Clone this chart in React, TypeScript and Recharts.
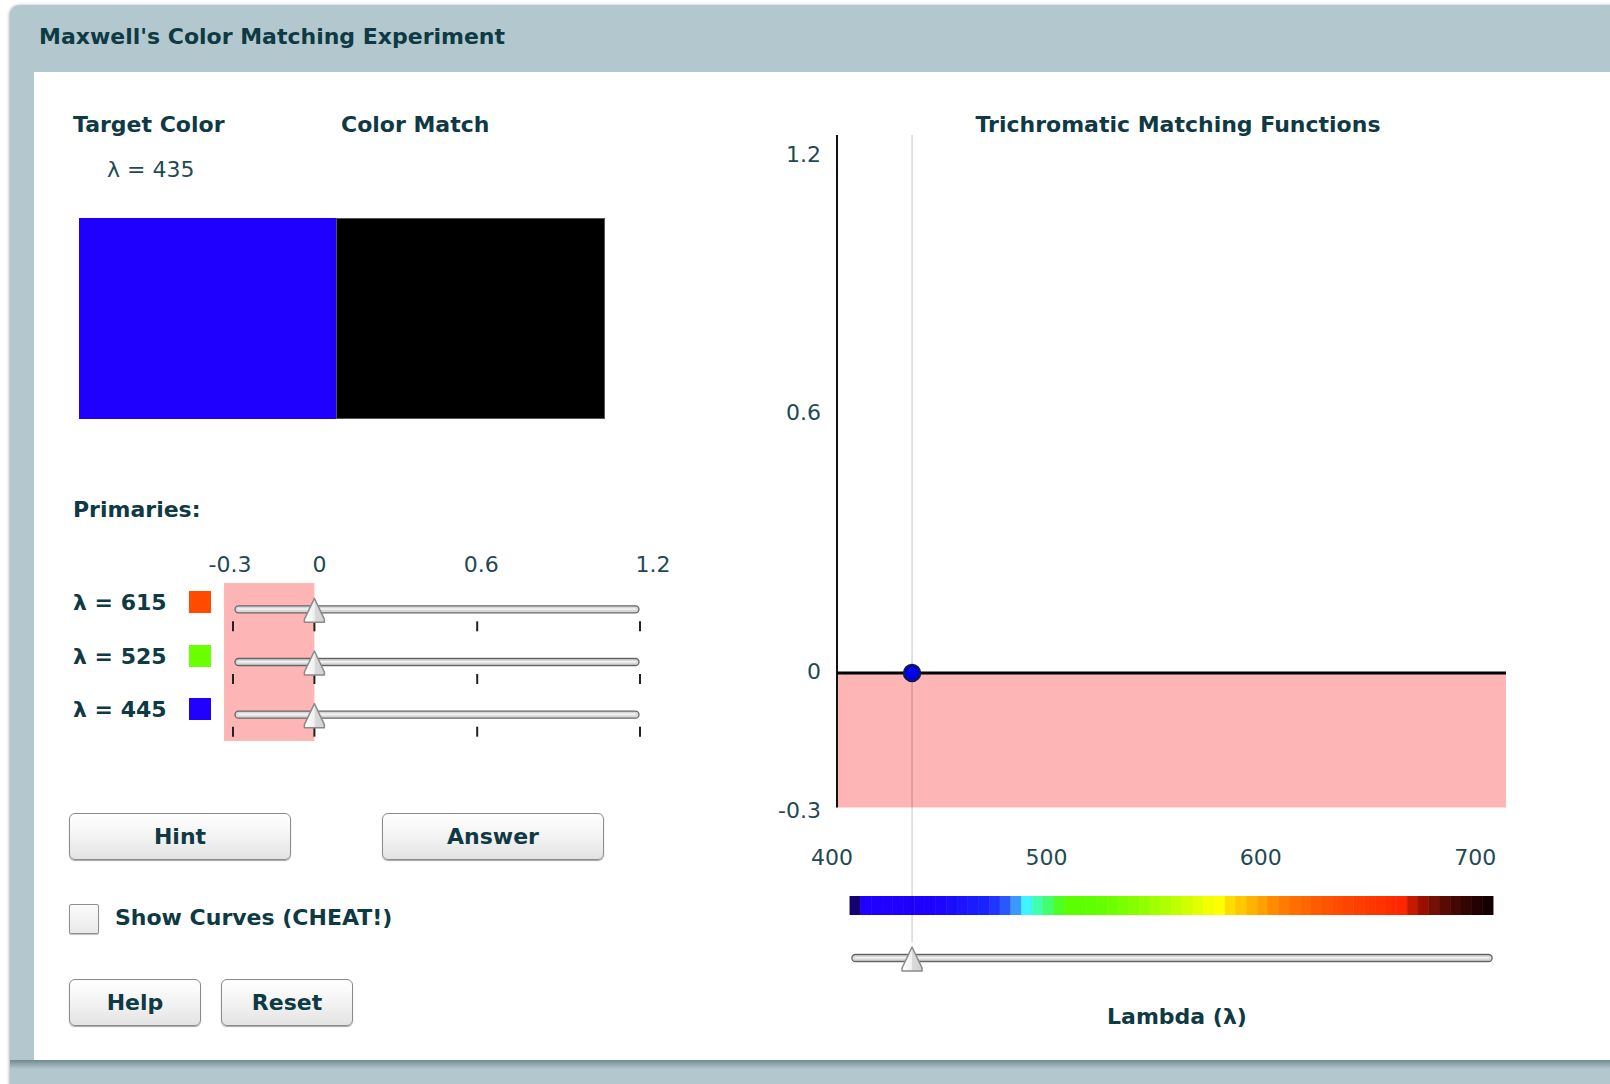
import React from 'react';
import { ComposedChart, XAxis, YAxis, ReferenceArea, ReferenceLine, ReferenceDot, Scatter } from 'recharts';

// ---------- data ----------
const targetLambda = 435;
const targetColor = '#1f00ff';
const targetMatchValue = 0;
const primaryLambdas = [615, 525, 445];
const primaryColors = ['#ff4a00', '#6cff00', '#2200ff'];
const primaryWeights = [0, 0, 0];
const sliderTicks = [-0.3, 0, 0.6, 1.2];
const lambdaTicks = [400, 500, 600, 700];
const valueTicks = [1.2, 0.6, 0, -0.3];
const lambdaDomain = [400, 712];
const valueDomain = [-0.3, 1.2];
const spectrumStart = 406;
const spectrumStep = 5;
const spectrumColors = [
  '#14006e', '#2000ff', '#2000ff', '#2000ff', '#2000ff', '#1f00ff', '#1e00ff', '#1e02ff', '#1d06ff', '#1c0cff',
  '#1b14ff', '#1a1cff', '#1a22ff', '#1e34ff', '#2a58ff', '#3a98ff', '#40f4ff', '#40ffb0', '#42ff70', '#4cff24',
  '#5aff00', '#5cff00', '#60ff00', '#66ff00', '#6eff00', '#78ff00', '#84ff00', '#92ff00', '#a0ff00', '#b0ff00',
  '#c0ff00', '#d2ff00', '#e4ff00', '#f4ff00', '#ffff00', '#ffdc00', '#ffc800', '#ffb400', '#ffa000', '#ff8c00',
  '#ff7c00', '#ff7000', '#ff6600', '#ff5c00', '#ff5400', '#ff4c00', '#ff4400', '#ff3e00', '#ff3800', '#ff3200',
  '#ff2c00', '#ff2600', '#c41a00', '#9a1000', '#741006', '#5a0a04', '#440804', '#320402', '#220202', '#140000',
];

// tables built from the arrays above
const targetData = [{ lambda: targetLambda, value: targetMatchValue, row: 0.5 }];
const primaryData = primaryLambdas.map((l, i) => ({ lambda: l, weight: primaryWeights[i], row: i + 0.5 }));
const spectrumData = spectrumColors.map((c, i) => ({
  lambda: spectrumStart + i * spectrumStep + spectrumStep / 2,
  x1: spectrumStart + i * spectrumStep,
  x2: spectrumStart + (i + 1) * spectrumStep,
  color: c,
  row: 0.5,
}));

// ---------- styles / layout ----------
const FONT = '"DejaVu Sans", Verdana, sans-serif';
const HEAD = '#0f3a44';
const TEXT = '#1f4a54';
const PINK = '#fdb5b5';
const GUIDE = 'rgba(0,0,0,0.24)';
// the plot frame runs on below the axis so the guide line reaches the lambda slider
const plotFloor = -0.6;
const X_LABEL_RISE = 85;

const fmt = (v: number) => (v === 0 ? '0' : String(v));

const hexToRgb = (h: string) => [parseInt(h.slice(1, 3), 16), parseInt(h.slice(3, 5), 16), parseInt(h.slice(5, 7), 16)];
const matchRgb = [0, 1, 2].map((k) =>
  Math.min(255, Math.max(0, Math.round(primaryColors.reduce((s, c, i) => s + hexToRgb(c)[k] * primaryWeights[i], 0))))
);
const matchColor = `rgb(${matchRgb[0]},${matchRgb[1]},${matchRgb[2]})`;

const yNudge: Record<string, number> = { '1.2': 19, '0.6': 8, '0': -2, '-0.3': 3 };
const sNudge: Record<string, number> = { '-0.3': -3, '0': 5, '0.6': 4, '1.2': 13 };

function YTick(props: any) {
  const { x, y, payload } = props;
  const v = payload.value;
  return (
    <text x={x} y={y + (yNudge[String(v)] ?? 0)} textAnchor="end" dominantBaseline="central" fill={TEXT} fontSize={22} fontFamily={FONT}>
      {fmt(v)}
    </text>
  );
}

function XTick(props: any) {
  const { x, y, payload } = props;
  return (
    <text x={x - 5} y={y - X_LABEL_RISE} textAnchor="middle" dominantBaseline="central" fill={TEXT} fontSize={22} fontFamily={FONT}>
      {fmt(payload.value)}
    </text>
  );
}

function STick(props: any) {
  const { x, y, payload } = props;
  const v = payload.value;
  return (
    <text x={x + (sNudge[String(v)] ?? 0)} y={y - 19} textAnchor="middle" dominantBaseline="central" fill={TEXT} fontSize={22} fontFamily={FONT}>
      {fmt(v)}
    </text>
  );
}

function Track(props: any) {
  const { x, y, width, height } = props;
  const cy = y + height / 2;
  return (
    <g>
      <rect x={x + 2} y={cy - 3.5} width={width - 3} height={7} rx={3.5} fill="#d8d8d8" stroke="#666" strokeWidth={1.3} />
      <line x1={x + 5} x2={x + width - 4} y1={cy - 0.3} y2={cy - 0.3} stroke="#f4f4f4" strokeWidth={1.6} />
    </g>
  );
}

function Thumb(props: any) {
  const { cx, cy } = props;
  if (cx == null || cy == null) return <g />;
  return (
    <g>
      <defs>
        <linearGradient id="thumbGrad" x1="0" y1="0" x2="1" y2="0">
          <stop offset="0" stopColor="#ffffff" />
          <stop offset="0.5" stopColor="#f0f0f0" />
          <stop offset="0.52" stopColor="#dadada" />
          <stop offset="1" stopColor="#d2d2d2" />
        </linearGradient>
      </defs>
      <path
        d={`M${cx},${cy - 11} L${cx + 10},${cy + 10} L${cx + 10},${cy + 13} L${cx - 10},${cy + 13} L${cx - 10},${cy + 10} Z`}
        fill="url(#thumbGrad)"
        stroke="#8a8a8a"
        strokeWidth={1.5}
        strokeLinejoin="round"
      />
    </g>
  );
}

// guide below the value axis, drawn inside a hairline reference band
function GuideBand(props: any) {
  const { x, y, width, height } = props;
  if (x == null || y == null) return <g />;
  const gx = x + (width || 0) / 2;
  return <line x1={gx} x2={gx} y1={y} y2={y + height} stroke={GUIDE} strokeWidth={1} />;
}

function BlueDot(props: any) {
  const { cx, cy } = props;
  if (cx == null || cy == null) return <g />;
  return <circle cx={cx} cy={cy} r={8} fill="#0000ee" stroke="#0a1a55" strokeWidth={2.5} />;
}

function TickMark(props: any) {
  const { cx, cy } = props;
  return <line x1={cx} x2={cx} y1={cy + 12} y2={cy + 22} stroke="#222" strokeWidth={2} />;
}

function Label(p: { x: number; cy: number; text: string; bold?: boolean; center?: boolean; color?: string }) {
  const { x, cy, text, bold = true, center = false, color = HEAD } = p;
  return (
    <div
      style={{
        position: 'absolute',
        left: center ? x - 300 : x,
        width: center ? 600 : undefined,
        textAlign: center ? 'center' : 'left',
        top: cy - 15,
        height: 30,
        lineHeight: '30px',
        fontSize: 22,
        fontWeight: bold ? 'bold' : 'normal',
        color,
        whiteSpace: 'nowrap',
        fontFamily: FONT,
      }}
    >
      {text}
    </div>
  );
}

function Btn(p: { x: number; y: number; w: number; h: number; text: string }) {
  return (
    <div
      style={{
        position: 'absolute',
        left: p.x,
        top: p.y,
        width: p.w,
        height: p.h,
        boxSizing: 'border-box',
        border: '1px solid #8b8b8b',
        borderRadius: 6,
        background: 'linear-gradient(#ffffff, #f3f3f3 50%, #e3e3e3)',
        boxShadow: '0 1px 1px rgba(0,0,0,0.35)',
        display: 'flex',
        alignItems: 'center',
        justifyContent: 'center',
        fontSize: 22,
        fontWeight: 'bold',
        color: HEAD,
        fontFamily: FONT,
      }}
    >
      {p.text}
    </div>
  );
}

export default function App() {
  return (
    <div style={{ position: 'absolute', left: 0, top: 0, width: 1610, height: 1084, background: '#fff', overflow: 'hidden', fontFamily: FONT }}>
      {/* panel frame */}
      <div style={{ position: 'absolute', left: 10, top: 5, width: 1660, height: 1120, background: '#b2c8ce', borderRadius: '10px 0 0 0', boxShadow: '-1px 0 3px rgba(0,0,0,0.3)' }} />
      <div style={{ position: 'absolute', left: 34, top: 72, width: 1600, height: 988, background: '#ffffff' }} />
      <div style={{ position: 'absolute', left: 10, top: 1060, width: 1620, height: 24, background: 'linear-gradient(#71888f 0px, #97adb3 5px, #b2c8ce 9px)' }} />

      <Label x={39} cy={37} text="Maxwell's Color Matching Experiment" />

      {/* left side */}
      <Label x={73} cy={125} text="Target Color" />
      <Label x={341} cy={125} text="Color Match" />
      <Label x={107} cy={170} text={`λ = ${targetLambda}`} bold={false} color={TEXT} />
      <div style={{ position: 'absolute', left: 79, top: 218, width: 257, height: 201, background: targetColor }} />
      <div style={{ position: 'absolute', left: 336, top: 218, width: 269, height: 201, background: matchColor, border: '1px solid #555', boxSizing: 'border-box' }} />

      <Label x={73} cy={510} text="Primaries:" />
      {primaryLambdas.map((l, i) => (
        <React.Fragment key={l}>
          <Label x={73} cy={603 + i * 53.5} text={`λ = ${l}`} />
          <div style={{ position: 'absolute', left: 189, top: 591 + i * 53.5, width: 22, height: 22, background: primaryColors[i] }} />
        </React.Fragment>
      ))}

      <div style={{ position: 'absolute', left: 203, top: 533 }}>
        <ComposedChart width={470} height={218} data={primaryData} margin={{ top: 10, right: 33, left: 30, bottom: 10 }}>
          <XAxis
            type="number"
            dataKey="weight"
            orientation="top"
            domain={valueDomain}
            ticks={sliderTicks}
            interval={0}
            height={40}
            tickSize={0}
            tickMargin={0}
            axisLine={false}
            tickLine={false}
            tick={STick}
            allowDataOverflow
          />
          <YAxis type="number" dataKey="row" domain={[0, primaryLambdas.length]} reversed hide width={0} allowDataOverflow />
          <ReferenceArea x1={-0.333} x2={0} fill={PINK} fillOpacity={1} stroke="none" ifOverflow="visible" />
          {primaryData.map((p) => (
            <ReferenceArea key={`t${p.lambda}`} x1={valueDomain[0]} x2={valueDomain[1]} y1={p.row - 0.5} y2={p.row + 0.5} shape={Track} />
          ))}
          {primaryData.map((p) =>
            sliderTicks.map((t) => <ReferenceDot key={`k${p.lambda}-${t}`} x={t} y={p.row} shape={TickMark} />)
          )}
          <Scatter dataKey="row" shape={Thumb} isAnimationActive={false} />
        </ComposedChart>
      </div>

      <Btn x={69} y={813} w={222} h={47} text="Hint" />
      <Btn x={382} y={813} w={222} h={47} text="Answer" />
      <div
        style={{
          position: 'absolute',
          left: 69,
          top: 904,
          width: 30,
          height: 30,
          boxSizing: 'border-box',
          border: '1px solid #8f8f8f',
          borderRadius: 2,
          background: 'linear-gradient(#fbfbfb, #e9e9e9)',
          boxShadow: '0 1px 1px rgba(0,0,0,0.25)',
        }}
      />
      <Label x={115} cy={918} text="Show Curves (CHEAT!)" />
      <Btn x={69} y={979} w={132} h={47} text="Help" />
      <Btn x={221} y={979} w={132} h={47} text="Reset" />

      {/* right side */}
      <Label x={1178} cy={125} text="Trichromatic Matching Functions" center />

      {/* spectrum bar */}
      <div style={{ position: 'absolute', left: 737, top: 896 }}>
        <ComposedChart width={800} height={19} data={spectrumData} margin={{ top: 0, right: 31, left: 100, bottom: 0 }}>
          <XAxis type="number" dataKey="lambda" domain={lambdaDomain} hide allowDataOverflow />
          <YAxis type="number" dataKey="row" domain={[0, 1]} hide width={0} />
          {spectrumData.map((s) => (
            <ReferenceArea key={s.x1} x1={s.x1} x2={s.x2} fill={s.color} fillOpacity={1} stroke={s.color} strokeWidth={0.6} />
          ))}
        </ComposedChart>
      </div>

      {/* lambda slider */}
      <div style={{ position: 'absolute', left: 737, top: 940 }}>
        <ComposedChart width={800} height={36} data={targetData} margin={{ top: 0, right: 31, left: 100, bottom: 0 }}>
          <XAxis type="number" dataKey="lambda" domain={lambdaDomain} hide allowDataOverflow />
          <YAxis type="number" dataKey="row" domain={[0, 1]} hide width={0} />
          <ReferenceArea x1={spectrumData[0].x1} x2={spectrumData[spectrumData.length - 1].x2} shape={Track} />
          <Scatter dataKey="row" shape={Thumb} isAnimationActive={false} />
        </ComposedChart>
      </div>

      {/* main chart (drawn last so its guide line sits over the spectrum bar) */}
      <div style={{ position: 'absolute', left: 737, top: 115 }}>
        <ComposedChart width={800} height={837} data={targetData} margin={{ top: 20, right: 31, left: 0, bottom: 0 }}>
          <XAxis
            type="number"
            dataKey="lambda"
            domain={lambdaDomain}
            ticks={lambdaTicks}
            interval={0}
            height={10}
            tickSize={0}
            tickMargin={0}
            axisLine={false}
            tickLine={false}
            tick={XTick}
            allowDataOverflow
          />
          <YAxis
            type="number"
            dataKey="value"
            domain={[plotFloor, valueDomain[1]]}
            ticks={valueTicks}
            interval={0}
            width={100}
            tickSize={0}
            tickMargin={16}
            tickLine={false}
            axisLine={false}
            tick={YTick}
            allowDataOverflow
          />
          <ReferenceArea x1={lambdaDomain[0]} x2={lambdaDomain[1]} y1={valueDomain[0]} y2={0} fill={PINK} fillOpacity={1} stroke="none" />
          <ReferenceLine
            segment={[
              { x: lambdaDomain[0], y: valueDomain[1] },
              { x: lambdaDomain[0], y: valueDomain[0] },
            ]}
            stroke="#111"
            strokeWidth={2}
          />
          <ReferenceLine
            segment={[
              { x: targetLambda, y: valueDomain[1] },
              { x: targetLambda, y: valueDomain[0] },
            ]}
            stroke={GUIDE}
            strokeWidth={1}
          />
          <ReferenceArea
            x1={targetLambda - 0.01}
            x2={targetLambda + 0.01}
            y1={plotFloor}
            y2={valueDomain[0]}
            shape={GuideBand}
            ifOverflow="visible"
          />
          <ReferenceLine y={0} stroke="#000" strokeWidth={3} />
          <Scatter dataKey="value" shape={BlueDot} isAnimationActive={false} />
        </ComposedChart>
      </div>

      <Label x={1177} cy={1017} text="Lambda (λ)" center />
    </div>
  );
}
